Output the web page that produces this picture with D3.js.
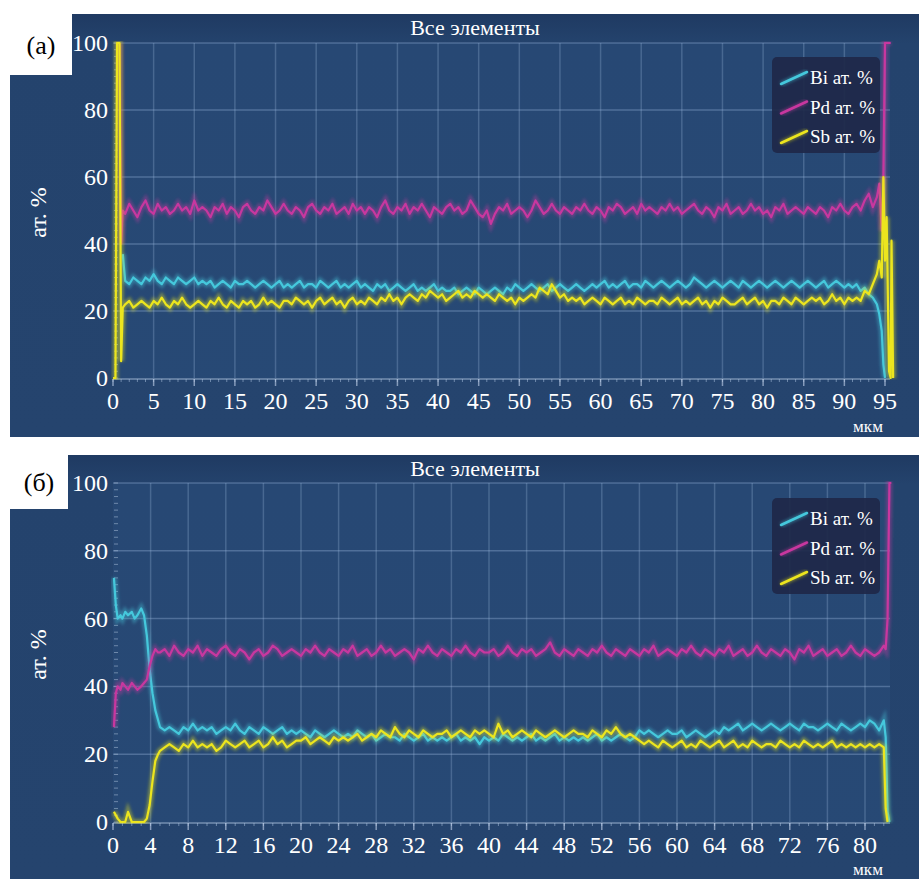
<!DOCTYPE html>
<html>
<head>
<meta charset="utf-8">
<script src="https://cdn.jsdelivr.net/npm/d3@7"></script>
<style>
  body { margin: 0; background: #fff; }
  svg { display: block; }
  svg text { font-family: 'Liberation Serif', 'Times New Roman', 'DejaVu Serif', serif; }
</style>
</head>
<body>
<svg id="chart" width="919" height="879"></svg>
<script>
// ---- panel (а) data, depth in мкм, values in ат. % ----
let headDepthA = [0, 0.3, 0.5, 0.8, 1.0, 1.2]
let tailDepthA = [94.3, 94.6, 94.8, 95.0, 95.2, 95.5, 95.7, 95.8, 96.0]

let biA = [NaN, NaN, NaN, NaN, NaN, 37,
  29, 28, 30, 29, 28, 30, 29, 31, 29, 28,
  30, 29, 28, 30, 29, 28, 29, 30, 28, 29,
  28, 29, 27, 28, 29, 28, 27, 29, 28, 28,
  29, 28, 27, 28, 29, 28, 27, 28, 29, 27,
  28, 27, 28, 29, 27, 28, 28, 27, 29, 28,
  27, 28, 29, 27, 28, 27, 28, 29, 27, 28,
  27, 26, 28, 27, 28, 26, 27, 28, 27, 26,
  27, 28, 26, 27, 26, 27, 28, 26, 27, 26,
  26, 27, 25, 26, 27, 26, 25, 27, 26, 25,
  26, 27, 26, 25, 27, 26, 28, 27, 26, 27,
  28, 27, 26, 27, 28, 26, 27, 28, 27, 26,
  27, 28, 27, 26, 27, 28, 27, 28, 29, 27,
  28, 27, 28, 29, 27, 28, 28, 27, 29, 28,
  27, 28, 29, 28, 27, 28, 29, 28, 27, 28,
  30, 29, 28, 27, 28, 29, 28, 27, 28, 29,
  28, 27, 29, 28, 27, 28, 29, 28, 27, 28,
  29, 28, 27, 28, 29, 28, 27, 28, 29, 28,
  27, 28, 29, 27, 28, 29, 28, 27, 28, 27,
  28, 26, 27, 25, 24, 22,
  19, 14, 4, 0, NaN, NaN, NaN, NaN, NaN]

let pdA = [NaN, NaN, NaN, 100, 40, 50,
  49, 52, 50, 48, 51, 53, 50, 49, 52, 50,
  51, 49, 50, 52, 50, 51, 49, 53, 50, 51,
  50, 48, 51, 50, 52, 49, 51, 50, 48, 51,
  52, 50, 49, 51, 50, 53, 51, 49, 50, 52,
  50, 49, 51, 50, 48, 51, 52, 50, 49, 51,
  50, 52, 49, 50, 51, 49, 52, 50, 51, 49,
  51, 50, 48, 51, 53, 50, 49, 51, 50, 52,
  49, 51, 50, 52, 50, 48, 51, 50, 49, 51,
  52, 50, 51, 49, 50, 53, 51, 49, 48, 50,
  46, 49, 51, 50, 52, 49, 50, 51, 50, 48,
  50, 53, 51, 49, 50, 52, 50, 49, 51, 50,
  49, 51, 50, 52, 50, 49, 51, 50, 48, 51,
  50, 52, 51, 49, 50, 51, 49, 52, 50, 51,
  50, 49, 51, 50, 52, 50, 51, 49, 50, 51,
  52, 50, 49, 51, 50, 48, 51, 50, 52, 49,
  50, 51, 49, 50, 52, 50, 51, 49, 50, 48,
  51, 50, 52, 49, 50, 51, 50, 49, 51, 50,
  49, 51, 50, 48, 51, 50, 52, 50, 49, 51,
  52, 50, 53, 55, 51, 54,
  58, 44, 60, 100, 100, 100, 100, NaN, NaN]

let sbA = [0, 0, 100, 100, 5, 21,
  22, 23, 21, 22, 23, 22, 21, 23, 22, 24,
  22, 21, 23, 22, 24, 22, 21, 22, 23, 22,
  21, 23, 22, 24, 22, 21, 23, 22, 21, 23,
  22, 23, 21, 22, 24, 22, 23, 22, 21, 23,
  23, 22, 24, 23, 22, 23, 21, 23, 24, 22,
  23, 24, 22, 23, 21, 23, 24, 22, 23, 22,
  24, 23, 22, 24, 23, 25, 23, 24, 22, 24,
  25, 24, 23, 25, 24, 26, 25, 24, 25, 23,
  24, 25, 26, 24, 25, 24, 26, 25, 24, 25,
  24, 23, 25, 24, 23, 24, 22, 24, 23, 24,
  25, 24, 27, 26, 25, 28, 26, 24, 25, 23,
  24, 23, 24, 22, 23, 24, 23, 22, 24, 23,
  22, 23, 24, 22, 23, 22, 24, 23, 22, 23,
  23, 22, 24, 23, 22, 23, 24, 22, 23, 22,
  23, 24, 22, 23, 21, 23, 22, 24, 23, 22,
  22, 23, 24, 22, 23, 24, 22, 23, 21, 23,
  23, 22, 24, 23, 22, 24, 23, 22, 23, 24,
  23, 24, 22, 23, 25, 23, 24, 22, 24, 23,
  24, 23, 26, 25, 28, 31,
  35, 30, 60, 35, 48, 2, 0, 41, 0]

// ---- panel (б) data ----
let headDepthB = [0.1, 0.3, 0.5, 0.8, 1.0, 1.3, 1.6, 2.0, 2.3, 2.6, 3.0, 3.3, 3.6, 3.9, 4.2, 4.5, 4.8]
let tailDepthB = [82.2, 82.4, 82.6, 82.8]

let biB = [72, 64, 60, 61, 60, 62, 61, 62, 60, 61, 63, 61, 55, 45, 38, 33, 30,
  28, 27, 28, 27, 26, 28, 27, 29, 27, 28,
  27, 28, 26, 27, 28, 27, 29, 27, 26, 28,
  27, 26, 28, 27, 26, 27, 28, 26, 27, 26,
  27, 26, 25, 27, 26, 25, 26, 27, 26, 25,
  26, 25, 27, 26, 25, 26, 24, 25, 26, 25,
  25, 24, 26, 25, 24, 25, 26, 24, 25, 24,
  25, 24, 25, 26, 24, 25, 24, 25, 23, 25,
  24, 25, 24, 26, 25, 24, 25, 24, 25, 26,
  24, 25, 24, 25, 26, 24, 25, 24, 25, 24,
  25, 24, 25, 26, 24, 25, 24, 25, 26, 25,
  24, 25, 27, 26, 27, 26, 25, 26, 27, 26,
  26, 27, 25, 26, 27, 26, 25, 26, 27, 26,
  28, 27, 28, 29, 27, 28, 29, 28, 27, 28,
  29, 28, 27, 28, 29, 28, 27, 29, 28, 28,
  27, 28, 29, 28, 27, 29, 28, 27, 28, 29,
  28, 30, 29, 27, 30,
  25, 3, 0, NaN]

let pdB = [28, 38, 40, 39, 41, 40, 39, 41, 40, 39, 40, 41, 42, 46, 49, 51, 50,
  50, 51, 49, 52, 50, 49, 51, 50, 52, 49,
  51, 50, 49, 51, 52, 50, 49, 51, 50, 48,
  50, 51, 49, 50, 52, 51, 49, 50, 51, 50,
  49, 51, 50, 52, 50, 49, 51, 50, 49, 51,
  50, 52, 49, 50, 51, 49, 50, 52, 50, 51,
  49, 50, 51, 50, 48, 51, 50, 52, 50, 49,
  51, 50, 49, 51, 50, 52, 50, 49, 51, 50,
  50, 51, 49, 50, 52, 50, 49, 51, 50, 51,
  49, 50, 51, 53, 50, 49, 51, 50, 49, 51,
  50, 49, 51, 50, 52, 50, 49, 51, 50, 49,
  51, 50, 49, 51, 50, 52, 49, 50, 51, 50,
  49, 51, 50, 52, 50, 49, 51, 50, 49, 51,
  50, 52, 49, 50, 51, 49, 50, 52, 50, 49,
  51, 50, 49, 51, 50, 48, 51, 50, 52, 49,
  50, 51, 49, 50, 51, 49, 50, 52, 50, 49,
  51, 50, 49, 50, 52,
  51, 60, 100, 100]

let sbB = [3, 2, 1, 0, 0, 0, 3, 0, 0, 0, 0, 0, 1, 5, 12, 18, 20,
  21, 22, 23, 22, 21, 23, 22, 24, 22, 23,
  22, 23, 21, 22, 24, 23, 22, 23, 24, 22,
  23, 24, 22, 23, 25, 23, 24, 22, 23, 24,
  24, 25, 23, 24, 25, 24, 23, 25, 24, 25,
  24, 25, 26, 24, 25, 26, 25, 27, 26, 25,
  28, 26, 25, 27, 26, 25, 27, 26, 25, 26,
  26, 27, 25, 26, 27, 26, 25, 27, 26, 27,
  26, 25, 29, 26, 27, 25, 26, 27, 26, 25,
  27, 26, 25, 26, 27, 26, 25, 26, 27, 26,
  26, 25, 27, 26, 25, 27, 26, 28, 26, 25,
  26, 25, 24, 23, 24, 23, 22, 24, 23, 22,
  23, 24, 22, 23, 22, 24, 23, 22, 23, 24,
  22, 23, 24, 22, 23, 22, 24, 23, 22, 23,
  23, 22, 24, 23, 22, 23, 22, 24, 23, 22,
  23, 22, 23, 24, 22, 23, 22, 23, 22, 23,
  22, 23, 22, 23, 22,
  4, 0, NaN, NaN]

let seriesNames = ['Bi ат. %', 'Pd ат. %', 'Sb ат. %']
let seriesColors = ['#45c8dc', '#c8379f', '#ece51e']
let yTicks = [0, 20, 40, 60, 80, 100]
let xTicksA = d3.range(0, 96, 5)
let xTicksB = d3.range(0, 81, 4)

let depthA = headDepthA.concat(d3.range(1.5, 94.01, 0.5), tailDepthA)
let depthB = headDepthB.concat(d3.range(5, 82.01, 0.5), tailDepthB)

let serif = "'Liberation Serif', 'Times New Roman', 'DejaVu Serif', serif"

let svg = d3.select('#chart')

let defs = svg.append('defs')
defs.append('filter').attr('id', 'glow')
  .attr('x', '-20%').attr('y', '-20%').attr('width', '140%').attr('height', '140%')
  .append('feGaussianBlur').attr('stdDeviation', 1.8)

let panels = [
  {
    id: 'a', label: '(а)', top: 14, bottom: 437, labelW: 62, labelH: 61,
    depth: depthA, series: [biA, pdA, sbA],
    xDomain: [0, 95], xRange: [113, 885], yRange: [378, 43],
    xTicks: xTicksA, axisEnd: 890, legendY: 57, unitY: 432
  },
  {
    id: 'b', label: '(б)', top: 455, bottom: 879, labelW: 58, labelH: 54,
    depth: depthB, series: [biB, pdB, sbB],
    xDomain: [0, 80], xRange: [113, 865], yRange: [822, 483],
    xTicks: xTicksB, axisEnd: 890, legendY: 498, unitY: 875
  }
]

panels.forEach(p => {
  let g = svg.append('g').attr('class', 'panel-' + p.id)
  let x = d3.scaleLinear().domain(p.xDomain).range(p.xRange)
  let y = d3.scaleLinear().domain([0, 100]).range(p.yRange)

  // background
  let grad = defs.append('linearGradient').attr('id', 'bg-' + p.id)
    .attr('x1', 0).attr('y1', 0).attr('x2', 0).attr('y2', 1)
  grad.append('stop').attr('offset', '0%').attr('stop-color', '#1f3a62')
  grad.append('stop').attr('offset', '7%').attr('stop-color', '#24436d')
  grad.append('stop').attr('offset', '100%').attr('stop-color', '#25446e')

  g.append('rect')
    .attr('x', 10).attr('y', p.top)
    .attr('width', 909).attr('height', p.bottom - p.top)
    .attr('fill', 'url(#bg-' + p.id + ')')

  g.append('rect')
    .attr('x', x(0)).attr('y', y(100))
    .attr('width', p.axisEnd - x(0)).attr('height', y(0) - y(100))
    .attr('fill', '#2a4c7a').attr('opacity', 0.6)

  // grid
  g.selectAll('.hgrid').data(yTicks.filter(t => t > 0)).enter()
    .append('line')
    .attr('x1', x(0)).attr('x2', p.axisEnd)
    .attr('y1', d => y(d)).attr('y2', d => y(d))
    .attr('stroke', '#9fbbe0').attr('stroke-opacity', 0.35).attr('stroke-width', 1.5)

  g.selectAll('.vgrid').data(p.xTicks.filter(t => t > 0)).enter()
    .append('line')
    .attr('x1', d => x(d)).attr('x2', d => x(d))
    .attr('y1', y(100)).attr('y2', y(0))
    .attr('stroke', '#9fbbe0').attr('stroke-opacity', 0.28).attr('stroke-width', 1.5)

  // axis line and ticks
  g.append('line')
    .attr('x1', x(0)).attr('x2', p.axisEnd)
    .attr('y1', y(0) + 1).attr('y2', y(0) + 1)
    .attr('stroke', '#b8cdea').attr('stroke-opacity', 0.55).attr('stroke-width', 1.5)

  let minorX = d3.range(0, x.invert(p.axisEnd), 1)
  g.selectAll('.mxt').data(minorX).enter()
    .append('line')
    .attr('x1', d => x(d)).attr('x2', d => x(d))
    .attr('y1', y(0) + 1).attr('y2', y(0) + 4)
    .attr('stroke', '#b8cdea').attr('stroke-opacity', 0.5).attr('stroke-width', 1)

  g.selectAll('.xt').data(p.xTicks).enter()
    .append('line')
    .attr('x1', d => x(d)).attr('x2', d => x(d))
    .attr('y1', y(0) + 1).attr('y2', y(0) + 8)
    .attr('stroke', '#c6d6ee').attr('stroke-opacity', 0.6).attr('stroke-width', 1.5)

  let minorY = d3.range(0, 101, 2)
  g.selectAll('.myt').data(minorY).enter()
    .append('line')
    .attr('x1', x(0) + 1).attr('x2', x(0) + 5)
    .attr('y1', d => y(d)).attr('y2', d => y(d))
    .attr('stroke', '#c6d6ee').attr('stroke-opacity', 0.45).attr('stroke-width', 1)

  // tick labels
  g.selectAll('.ylab').data(yTicks).enter()
    .append('text')
    .attr('x', 108).attr('y', d => y(d) + 8)
    .attr('text-anchor', 'end')
    .attr('font-family', serif).attr('font-size', 24)
    .attr('fill', '#fff')
    .text(d => d)

  g.selectAll('.xlab').data(p.xTicks).enter()
    .append('text')
    .attr('x', d => x(d)).attr('y', y(0) + 31)
    .attr('text-anchor', 'middle')
    .attr('font-family', serif).attr('font-size', 24)
    .attr('fill', '#fff')
    .text(d => d)

  g.append('text')
    .attr('x', 868).attr('y', p.unitY)
    .attr('text-anchor', 'middle')
    .attr('font-family', serif).attr('font-size', 17)
    .attr('fill', '#fff')
    .text('мкм')

  g.append('text')
    .attr('transform', `translate(46,${(y(0) + y(100)) / 2 + 2}) rotate(-90)`)
    .attr('text-anchor', 'middle')
    .attr('font-family', serif).attr('font-size', 24)
    .attr('fill', '#fff')
    .text('ат. %')

  g.append('text')
    .attr('x', 475).attr('y', p.top + 21)
    .attr('text-anchor', 'middle')
    .attr('font-family', serif).attr('font-size', 22)
    .attr('fill', '#fff')
    .text('Все элементы')

  // data lines
  let clipId = 'clip-' + p.id
  defs.append('clipPath').attr('id', clipId)
    .append('rect')
    .attr('x', x(0) - 2).attr('y', y(100) - 2)
    .attr('width', p.axisEnd - x(0) + 12).attr('height', y(0) - y(100) + 4)

  let line = d3.line()
    .defined(d => !isNaN(d[1]))
    .x(d => x(d[0]))
    .y(d => y(d[1]))

  let lines = g.append('g').attr('clip-path', 'url(#' + clipId + ')')
  p.series.forEach((vals, i) => {
    let pts = p.depth.map((d, j) => [d, vals[j]])
    lines.append('path')
      .datum(pts)
      .attr('d', line)
      .attr('fill', 'none')
      .attr('stroke', seriesColors[i])
      .attr('stroke-width', 6)
      .attr('stroke-opacity', 0.4)
      .attr('filter', 'url(#glow)')
    lines.append('path')
      .datum(pts)
      .attr('d', line)
      .attr('fill', 'none')
      .attr('stroke', seriesColors[i])
      .attr('stroke-width', 2.2)
      .attr('stroke-linejoin', 'round')
  })

  // legend
  let lg = g.append('g').attr('transform', `translate(772,${p.legendY})`)
  lg.append('rect')
    .attr('width', 108).attr('height', 96).attr('rx', 5)
    .attr('fill', '#1e2849').attr('opacity', 0.92)
  seriesNames.forEach((name, i) => {
    let cy = 21 + i * 29.5
    lg.append('line')
      .attr('x1', 9).attr('y1', cy + 6).attr('x2', 35).attr('y2', cy - 6)
      .attr('stroke', seriesColors[i]).attr('stroke-width', 5)
      .attr('stroke-opacity', 0.4).attr('filter', 'url(#glow)')
    lg.append('line')
      .attr('x1', 9).attr('y1', cy + 6).attr('x2', 35).attr('y2', cy - 6)
      .attr('stroke', seriesColors[i]).attr('stroke-width', 2.5)
      .attr('stroke-linecap', 'round')
    lg.append('text')
      .attr('x', 38).attr('y', cy + 6)
      .attr('font-family', serif).attr('font-size', 19)
      .attr('fill', '#fff')
      .text(name)
  })

  // panel label box
  g.append('rect')
    .attr('x', 10).attr('y', p.top)
    .attr('width', p.labelW).attr('height', p.labelH)
    .attr('fill', '#fff')
  g.append('text')
    .attr('x', 10 + p.labelW / 2).attr('y', p.top + p.labelH / 2 + 9)
    .attr('text-anchor', 'middle')
    .attr('font-family', serif).attr('font-size', 26)
    .attr('fill', '#000')
    .text(p.label)
})
</script>
</body>
</html>
